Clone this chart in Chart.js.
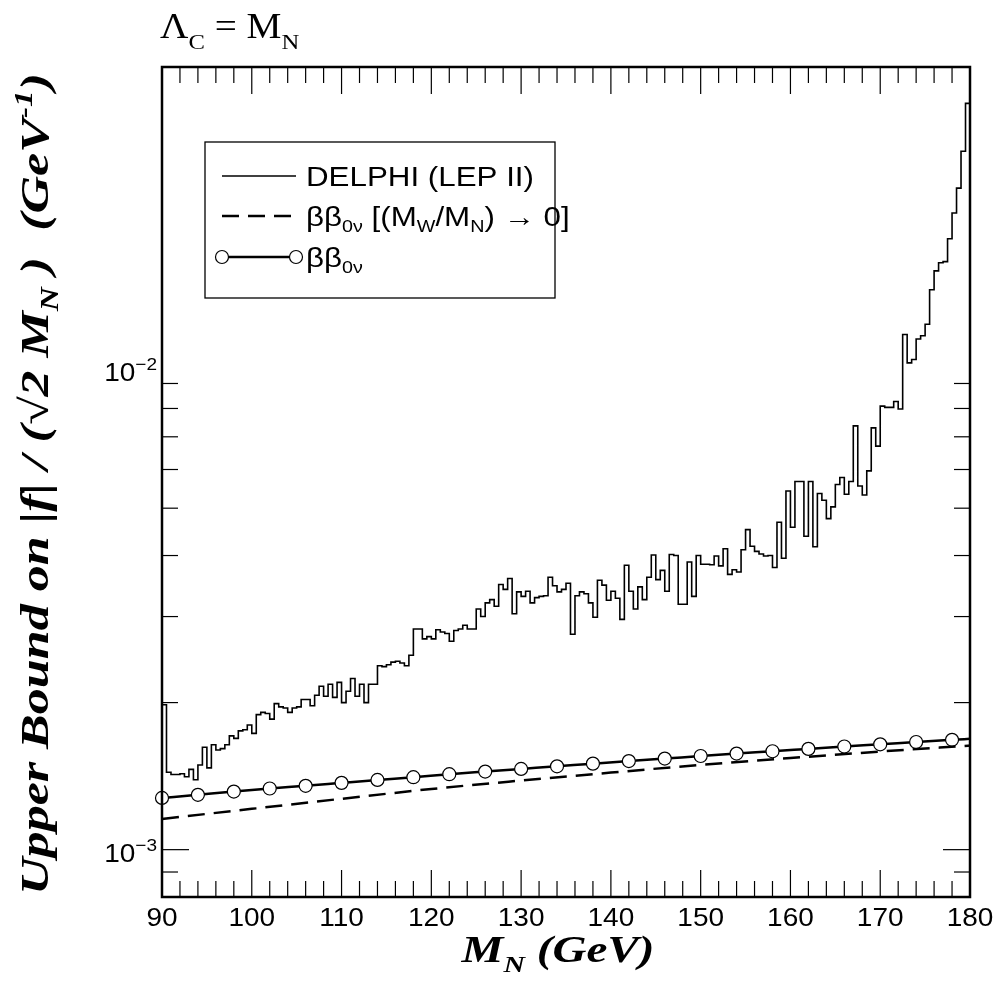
<!DOCTYPE html>
<html>
<head>
<meta charset="utf-8">
<script src="https://cdn.jsdelivr.net/npm/chart.js@4.4.0/dist/chart.umd.min.js"></script>
<style>
  html, body { margin: 0; padding: 0; background: #fff; }
</style>
</head>
<body>
<canvas id="limitChart" width="1000" height="994"></canvas>
<script>
// DELPHI (LEP II) histogram: 0.5 GeV bins from 90 to 180 GeV, values in units of 1e-3 GeV^-1
const binLow = 90;
const binWidth = 0.5;
const delphiStartFloor = 1.01; // vertical edge at M_N = 90
const delphiE3 = [
  1.98, 1.44, 1.425, 1.425, 1.43, 1.41, 1.46, 1.39, 1.49, 1.62,
  1.47, 1.64, 1.60, 1.61, 1.64, 1.71, 1.69, 1.75, 1.76, 1.80,
  1.73, 1.89, 1.91, 1.90, 1.85, 1.99, 1.96, 1.95, 1.91, 1.95,
  1.96, 2.03, 2.03, 1.97, 2.07, 2.16, 2.06, 2.18, 2.05, 2.20,
  2.00, 2.11, 2.24, 2.06, 2.18, 2.00, 2.18, 2.18, 2.38, 2.37,
  2.39, 2.42, 2.43, 2.41, 2.38, 2.50, 2.83, 2.83, 2.70, 2.73,
  2.70, 2.82, 2.79, 2.77, 2.67, 2.81, 2.83, 2.88, 2.83, 2.83,
  3.11, 3.00, 3.20, 3.25, 3.15, 3.49, 3.41, 3.59, 3.04, 3.37,
  3.30, 3.38, 3.20, 3.28, 3.30, 3.31, 3.61, 3.47, 3.37, 3.41,
  3.51, 2.76, 3.31, 3.37, 3.34, 3.20, 2.99, 3.56, 3.48, 3.24,
  3.38, 3.27, 2.96, 3.82, 3.38, 3.11, 3.45, 3.25, 3.61, 4.01,
  3.57, 3.73, 3.38, 4.02, 4.00, 3.18, 3.18, 3.88, 3.30, 4.00,
  3.84, 3.84, 3.83, 3.99, 3.81, 4.13, 3.66, 3.74, 3.70, 4.11,
  4.52, 4.18, 4.08, 4.03, 3.99, 4.00, 3.78, 4.68, 3.95, 5.42,
  4.57, 5.67, 5.67, 4.38, 5.67, 4.17, 5.36, 5.19, 4.76, 5.03,
  5.59, 5.78, 5.34, 5.67, 7.37, 5.55, 5.32, 5.96, 7.30, 6.70,
  8.09, 8.04, 8.04, 8.27, 7.98, 11.34, 9.92, 10.08, 11.10, 11.27,
  11.90, 14.0, 15.3, 15.9, 15.98, 17.8, 20.1, 22.6, 26.9, 33.7
];

// bb0v in the limit (M_W/M_N) -> 0 (dashed)
const dashedMass = [90, 100, 110, 120, 130, 140, 150, 160, 170, 180];
const dashedE3 = [1.156, 1.212, 1.271, 1.331, 1.385, 1.438, 1.491, 1.540, 1.588, 1.633];

// bb0v full (solid with circles); last entry is the curve end without a marker
const circleMass = [90, 94, 98, 102, 106, 110, 114, 118, 122, 126, 130, 134, 138, 142, 146, 150, 154, 158, 162, 166, 170, 174, 178, 180];
const circleE3 = [1.276, 1.295, 1.315, 1.334, 1.351, 1.370, 1.389, 1.407, 1.427, 1.445, 1.463, 1.481, 1.500, 1.518, 1.536, 1.555, 1.573, 1.590, 1.608, 1.626, 1.643, 1.661, 1.678, 1.686];

const xLabels = [90, 100, 110, 120, 130, 140, 150, 160, 170, 180];
const yDecades = [0.001, 0.01];
const yLabelExp = ['\u22123', '\u22122'];
const yLabelDrop = [12, 20]; // baseline offset of each label below its decade
const yMinorTicks = [0.0009, 0.002, 0.003, 0.004, 0.005, 0.006, 0.007, 0.008, 0.009];

// build the chart points
const histPts = [{ x: binLow, y: delphiStartFloor * 1e-3 }];
delphiE3.forEach((v, i) => histPts.push({ x: binLow + i * binWidth, y: v * 1e-3 }));
histPts.push({ x: binLow + delphiE3.length * binWidth, y: delphiE3[delphiE3.length - 1] * 1e-3 });

const dashedPts = dashedMass.map((m, i) => ({ x: m, y: dashedE3[i] * 1e-3 }));
const circlePts = circleMass.map((m, i) => ({ x: m, y: circleE3[i] * 1e-3 }));

const SERIF = '"Liberation Serif", "Times New Roman", serif';
const SANS = '"Liberation Sans", Arial, sans-serif';
const STRETCH = 1.12; // glyphs in the original are a little wider than the fonts

// draw a run of text pieces [text, font, dy]; sx stretches along the text
function richText(ctx, parts, x, y, align, sx) {
  sx = sx || 1;
  let w = 0;
  parts.forEach(p => { ctx.font = p[1]; w += ctx.measureText(p[0]).width; });
  let cx = 0;
  if (align === 'center') cx = -w / 2;
  if (align === 'right') cx = -w;
  ctx.save();
  ctx.translate(x, y);
  ctx.scale(sx, 1);
  parts.forEach(p => {
    ctx.font = p[1];
    ctx.fillText(p[0], cx, p[2] || 0);
    cx += ctx.measureText(p[0]).width;
  });
  ctx.restore();
  return w;
}

function textWidth(ctx, parts) {
  let w = 0;
  parts.forEach(p => { ctx.font = p[1]; w += ctx.measureText(p[0]).width; });
  return w;
}

function seg(ctx, x1, y1, x2, y2) {
  ctx.beginPath();
  ctx.moveTo(x1, y1);
  ctx.lineTo(x2, y2);
  ctx.stroke();
}

const framePlugin = {
  id: 'framePlugin',
  afterDraw(chart) {
    const { ctx, chartArea: a, scales: { x, y } } = chart;
    ctx.save();
    ctx.strokeStyle = '#000';
    ctx.fillStyle = '#000';
    ctx.textBaseline = 'alphabetic';
    ctx.textAlign = 'left';

    // ticks on all four sides, pointing inwards
    ctx.lineWidth = 1.2;
    for (let m = 92; m < 180; m += 2) {
      const px = x.getPixelForValue(m);
      const len = m % 10 === 0 ? 27 : 16;
      seg(ctx, px, a.bottom, px, a.bottom - len);
      seg(ctx, px, a.top, px, a.top + len);
    }
    yMinorTicks.forEach(v => {
      const py = y.getPixelForValue(v);
      seg(ctx, a.left, py, a.left + 16, py);
      seg(ctx, a.right, py, a.right - 16, py);
    });
    const pyLow = y.getPixelForValue(yDecades[0]);
    seg(ctx, a.left, pyLow, a.left + 27, pyLow);
    seg(ctx, a.right, pyLow, a.right - 27, pyLow);

    // frame
    ctx.lineWidth = 2.5;
    ctx.strokeRect(a.left, a.top, a.right - a.left, a.bottom - a.top);

    // x tick labels
    xLabels.forEach(m => {
      richText(ctx, [[String(m), '25px ' + SANS]], x.getPixelForValue(m), a.bottom + 29, 'center', STRETCH);
    });

    // y tick labels
    yDecades.forEach((v, i) => {
      const py = y.getPixelForValue(v) + yLabelDrop[i];
      richText(ctx, [['10', '25px ' + SANS], [yLabelExp[i], '17px ' + SANS, -11]], a.left - 5, py, 'right', STRETCH);
    });

    // x axis title
    const bi = 'italic bold 38px ' + SERIF;
    const biSub = 'italic bold 24px ' + SERIF;
    const xTitle = [['M', bi], ['N', biSub, 10], [' (GeV)', bi]];
    richText(ctx, xTitle, 558, 962, 'center', 193 / textWidth(ctx, xTitle));

    // y axis title (rotated), fitted to the plot height
    const yf = 'italic bold 36px ' + SERIF;
    const yfs = 'italic bold 23px ' + SERIF;
    const yTitle = [
      ['Upper Bound on |', yf], ['f', yf], ['| / (\u221A2 M', yf], ['N', yfs, 9],
      [' )  (GeV', yf], ['-1', yfs, -15], [')', yf]
    ];
    ctx.save();
    ctx.translate(48, 484);
    ctx.rotate(-Math.PI / 2);
    ctx.scale(1, 1.1);
    richText(ctx, yTitle, 0, 0, 'center', 822 / textWidth(ctx, yTitle));
    ctx.restore();

    // top-left label
    const tf = '35px ' + SERIF;
    const tfs = '22px ' + SERIF;
    richText(ctx, [['\u039B', tf], ['C', tfs, 11], [' = M', tf], ['N', tfs, 11]], 160, 38, 'left', STRETCH);

    // legend box
    const lx = 205, ly = 142, lw = 350, lh = 156;
    ctx.lineWidth = 1.3;
    ctx.strokeRect(lx, ly, lw, lh);
    const rows = [176, 216, 257];
    const sx1 = 222, sx2 = 296, tx = 306;
    ctx.lineWidth = 1.5;
    seg(ctx, sx1, rows[0], sx2, rows[0]);
    ctx.lineWidth = 2.5;
    ctx.setLineDash([17, 9]);
    seg(ctx, sx1, rows[1], sx2, rows[1]);
    ctx.setLineDash([]);
    seg(ctx, sx1, rows[2], sx2, rows[2]);
    ctx.lineWidth = 1.2;
    [sx1, sx2].forEach(cx => {
      ctx.beginPath();
      ctx.arc(cx, rows[2], 6.5, 0, Math.PI * 2);
      ctx.fillStyle = '#fff';
      ctx.fill();
      ctx.stroke();
    });
    ctx.fillStyle = '#000';
    const lf = '27px ' + SANS;
    const lfs = '17px ' + SANS;
    const legStretch = 1.16;
    richText(ctx, [['DELPHI (LEP II)', lf]], tx, rows[0] + 10, 'left', legStretch);
    richText(ctx, [['\u03B2\u03B2', lf], ['0\u03BD', lfs, 6], [' [(M', lf], ['W', lfs, 6], ['/M', lf], ['N', lfs, 6], [') \u2192 0]', lf]], tx, rows[1] + 10, 'left', legStretch);
    richText(ctx, [['\u03B2\u03B2', lf], ['0\u03BD', lfs, 6]], tx, rows[2] + 10, 'left', legStretch);

    ctx.restore();
  }
};

const ctx = document.getElementById('limitChart').getContext('2d');
new Chart(ctx, {
  type: 'line',
  data: {
    datasets: [
      {
        label: 'DELPHI (LEP II)',
        data: histPts,
        stepped: 'before',
        borderColor: '#000',
        borderWidth: 1.6,
        pointRadius: 0,
        fill: false,
        clip: false
      },
      {
        label: 'bb0v [(MW/MN) -> 0]',
        data: dashedPts,
        borderColor: '#000',
        borderWidth: 2.5,
        borderDash: [17, 9],
        pointRadius: 0,
        cubicInterpolationMode: 'monotone',
        fill: false,
        clip: false
      },
      {
        label: 'bb0v',
        data: circlePts,
        borderColor: '#000',
        borderWidth: 2.5,
        pointRadius: c => (c.dataIndex === circlePts.length - 1 ? 0 : 6.5),
        pointBackgroundColor: '#fff',
        pointBorderColor: '#000',
        pointBorderWidth: 1.2,
        cubicInterpolationMode: 'monotone',
        fill: false,
        clip: false
      }
    ]
  },
  options: {
    responsive: false,
    animation: false,
    devicePixelRatio: 1,
    layout: { padding: { left: 162, top: 67, right: 30, bottom: 97 }, autoPadding: false },
    plugins: { legend: { display: false }, tooltip: { enabled: false } },
    scales: {
      x: { type: 'linear', min: 90, max: 180, display: false },
      y: { type: 'logarithmic', min: 0.0008, max: 0.04, display: false }
    }
  },
  plugins: [framePlugin]
});
</script>
</body>
</html>
